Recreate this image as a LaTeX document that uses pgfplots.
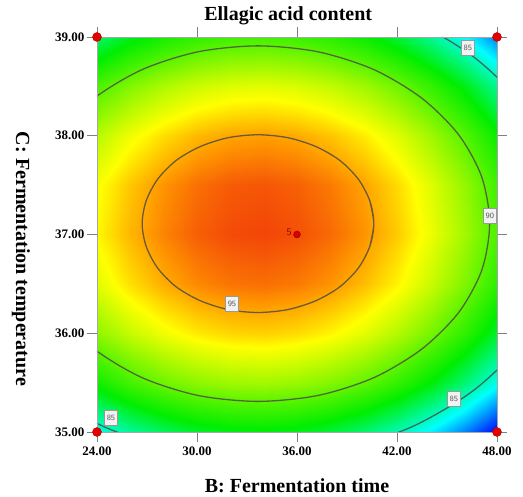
\documentclass[border=0pt]{standalone}
\usepackage{fontspec}
\setmainfont{Liberation Serif}
\usepackage{pgfplots}
\pgfplotsset{compat=1.18}

\tikzset{
  clabel/.style={draw=gray!80, fill=white!90!gray, inner sep=1.5pt,
    minimum width=13pt, minimum height=15pt,
    font=\fontsize{8}{8}\sffamily, text=gray!70!black},
  cline/.style={no marks, smooth, draw=black!72, line width=1.3pt, opacity=0.8},
}

\begin{document}
\begin{tikzpicture}
\begin{axis}[
  view={0}{90},
  scale only axis, width=400pt, height=395pt,
  xmin=24, xmax=48, ymin=35, ymax=39,
  xtick={24,30,36,42,48},
  xticklabels={24.00,30.00,36.00,42.00,48.00},
  ytick={35,36,37,38,39},
  yticklabels={35.00,36.00,37.00,38.00,39.00},
  ztick=\empty,
  tick align=outside, major tick length=10pt,
  tick style={gray, line width=0.8pt},
  axis line style={gray!70, line width=0.8pt},
  ticklabel style={font=\fontsize{13}{13}\selectfont\bfseries},
  xticklabel style={yshift=-1pt},
  yticklabel style={xshift=1pt},
  title={Ellagic acid content},
  title style={font=\fontsize{20}{20}\selectfont\bfseries,
    at={(axis description cs:0.478,1)}, anchor=base, yshift=10pt},
  xlabel={B: Fermentation time},
  xlabel style={font=\fontsize{20}{20}\selectfont\bfseries,
    at={(axis description cs:0.5,0)}, anchor=base, yshift=-61pt},
  ylabel={C: Fermentation temperature},
  ylabel style={font=\fontsize{20}{20}\selectfont\bfseries,
    at={(axis description cs:-0.19,0.438)}, anchor=center, rotate=180},
  colormap={design}{rgb255(0cm)=(0,0,255); rgb255(3.6cm)=(0,255,255);
    rgb255(7.3cm)=(0,238,0); rgb255(9.0cm)=(70,242,0);
    rgb255(12.9cm)=(255,255,0); rgb255(14.8cm)=(255,150,0);
    rgb255(16.6cm)=(240,50,10)},
  point meta min=80.4, point meta max=97,
  axis on top,
]

% predicted ellagic acid content over the B-C grid
\addplot3[surf, shader=interp, mesh/cols=13] table {
x y z
24 35 84.29
26 35 85.48
28 35 86.40
30 35 87.05
32 35 87.41
34 35 87.51
36 35 87.32
38 35 86.86
40 35 86.12
42 35 85.11
44 35 83.82
46 35 82.25
48 35 80.41
24 35.5 88.12
26 35.5 89.31
28 35.5 90.23
30 35.5 90.88
32 35.5 91.24
34 35.5 91.34
36 35.5 91.15
38 35.5 90.69
40 35.5 89.95
42 35.5 88.94
44 35.5 87.65
46 35.5 86.08
48 35.5 84.24
24 36 90.92
26 36 92.11
28 36 93.03
30 36 93.68
32 36 94.04
34 36 94.14
36 36 93.95
38 36 93.49
40 36 92.75
42 36 91.74
44 36 90.45
46 36 88.88
48 36 87.04
24 36.5 92.68
26 36.5 93.87
28 36.5 94.79
30 36.5 95.44
32 36.5 95.80
34 36.5 95.90
36 36.5 95.71
38 36.5 95.25
40 36.5 94.51
42 36.5 93.50
44 36.5 92.21
46 36.5 90.64
48 36.5 88.80
24 37 93.43
26 37 94.62
28 37 95.54
30 37 96.19
32 37 96.55
34 37 96.65
36 37 96.46
38 37 96.00
40 37 95.26
42 37 94.25
44 37 92.96
46 37 91.39
48 37 89.55
24 37.5 93.14
26 37.5 94.33
28 37.5 95.25
30 37.5 95.90
32 37.5 96.26
34 37.5 96.36
36 37.5 96.17
38 37.5 95.71
40 37.5 94.97
42 37.5 93.96
44 37.5 92.67
46 37.5 91.10
48 37.5 89.26
24 38 91.82
26 38 93.01
28 38 93.93
30 38 94.58
32 38 94.94
34 38 95.04
36 38 94.85
38 38 94.39
40 38 93.65
42 38 92.64
44 38 91.35
46 38 89.78
48 38 87.94
24 38.5 89.47
26 38.5 90.66
28 38.5 91.58
30 38.5 92.23
32 38.5 92.59
34 38.5 92.69
36 38.5 92.50
38 38.5 92.04
40 38.5 91.30
42 38.5 90.29
44 38.5 89.00
46 38.5 87.43
48 38.5 85.59
24 39 86.10
26 39 87.29
28 39 88.21
30 39 88.86
32 39 89.22
34 39 89.32
36 39 89.13
38 39 88.67
40 39 87.93
42 39 86.92
44 39 85.63
46 39 84.06
48 39 82.22
};

% contour at 95
\addplot[cline] coordinates {
(40.37,36.88) (40.61,37.11) (40.37,37.34) (39.68,37.56) (38.57,37.75)
(37.14,37.89) (35.46,37.98) (33.66,38.01) (31.86,37.98) (30.19,37.89)
(28.75,37.75) (27.64,37.56) (26.95,37.34) (26.71,37.11) (26.95,36.88)
(27.64,36.66) (28.75,36.47) (30.19,36.33) (31.86,36.24) (33.66,36.21)
(35.46,36.24) (37.14,36.33) (38.57,36.47) (39.68,36.66) (40.37,36.88)
(40.61,37.11) (40.37,37.34)
};
% contour at 90
\addplot[cline] coordinates {
(19.76,37.11) (20.23,36.64) (21.62,36.21) (23.83,35.84) (26.71,35.55)
(30.06,35.37) (33.66,35.31) (37.26,35.37) (40.61,35.55) (43.49,35.84)
(45.70,36.21) (47.09,36.64) (47.56,37.11) (47.09,37.58) (45.70,38.01)
(43.49,38.38) (40.61,38.67) (37.26,38.85) (33.66,38.91) (30.06,38.85)
(26.71,38.67) (23.83,38.38) (21.62,38.01) (20.23,37.58) (19.76,37.11)
};
% contour at 85
\addplot[cline] coordinates {
(15.27,37.11) (15.90,36.49) (17.73,35.92) (20.66,35.43) (24.47,35.05)
(28.90,34.81) (33.66,34.73) (38.42,34.81) (42.86,35.05) (46.66,35.43)
(49.59,35.92) (51.42,36.49) (52.05,37.11) (51.42,37.73) (49.59,38.30)
(46.66,38.79) (42.86,39.17) (38.42,39.41) (33.66,39.49) (28.90,39.41)
(24.47,39.17) (20.66,38.79) (17.73,38.30) (15.90,37.73) (15.27,37.11)
};

% contour labels
\node[clabel] at (axis cs:32.1,36.3) {95};
\node[clabel] at (axis cs:47.58,37.19) {90};
\node[clabel] at (axis cs:46.26,38.89) {85};
\node[clabel] at (axis cs:45.42,35.34) {85};
\node[clabel] at (axis cs:24.84,35.14) {85};

% design points
\addplot[only marks, mark=*, mark size=4.5pt,
  mark options={fill=red!90!black, draw=red!70!black}] coordinates {
(24,35) (24,39) (48,35) (48,39)
};
\addplot[only marks, mark=*, mark size=3.5pt,
  mark options={fill=red!85!black, draw=red!60!black}] coordinates {
(36,37)
};
\node[anchor=east, font=\fontsize{10}{10}\sffamily, text=red!55!black,
  inner sep=1pt] at (axis cs:35.75,37.02) {5};
\end{axis}
% page frame around plot area, titles and labels
\pgfresetboundingbox
\path[use as bounding box] (-97pt,-65pt) rectangle (426pt,432pt);
\end{tikzpicture}
\end{document}
